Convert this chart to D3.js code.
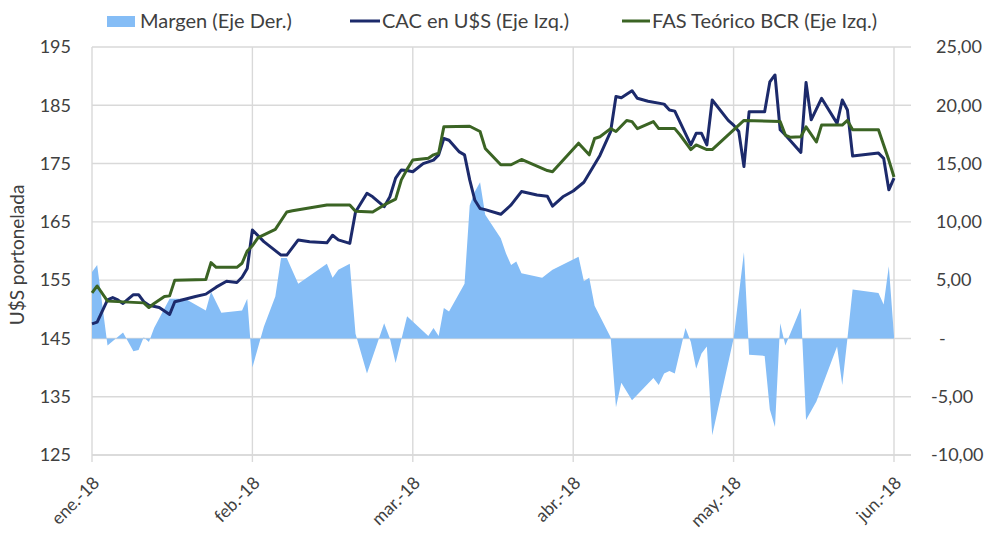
<!DOCTYPE html>
<html>
<head>
<meta charset="utf-8">
<script src="https://cdn.jsdelivr.net/npm/d3@7"></script>
<style>
  body { margin: 0; background: #fff; }
  svg text { font-family: Lato, 'Liberation Sans', sans-serif; fill: #404040; }
</style>
</head>
<body>
<div id="container"></div>
<script>
// Tick labels and month anchors
const monthStarts = ['01-01', '02-01', '03-01', '04-01', '05-01', '06-01'];
const monthLabels = ['ene.-18', 'feb.-18', 'mar.-18', 'abr.-18', 'may.-18', 'jun.-18'];
const leftTicks = [125, 135, 145, 155, 165, 175, 185, 195];
const rightTicks = [-10, -5, 0, 5, 10, 15, 20, 25];

// Margen (Eje Der.)
const margenData = [
  ['01-01', 5.7], ['01-02', 6.3], ['01-04', -0.6], ['01-07', 0.5], ['01-09', -1.1],
  ['01-10', -1.0], ['01-11', 0.1], ['01-12', -0.3], ['01-13', 0.9], ['01-16', 3.4],
  ['01-19', 3.4], ['01-23', 2.4], ['01-24', 4.0], ['01-26', 2.2], ['01-30', 2.4],
  ['01-31', 3.4], ['02-01', -2.5], ['02-03', 1.0], ['02-05', 3.6], ['02-06', 6.9],
  ['02-07', 6.9], ['02-09', 4.7], ['02-14', 6.4], ['02-15', 5.2], ['02-16', 5.9],
  ['02-18', 6.4], ['02-19', 0.4], ['02-21', -3.0], ['02-24', 1.3], ['02-25', 0.0],
  ['02-26', -2.1], ['02-28', 1.9], ['03-04', 0.2], ['03-05', 0.9], ['03-06', 0.2],
  ['03-07', 2.6], ['03-08', 2.3], ['03-11', 4.7], ['03-12', 11.4], ['03-13', 12.6],
  ['03-14', 13.4], ['03-15', 10.6], ['03-18', 8.6], ['03-19', 7.3], ['03-20', 6.3],
  ['03-21', 6.6], ['03-22', 5.6], ['03-26', 5.2], ['03-28', 5.9], ['04-02', 7.0],
  ['04-03', 4.9], ['04-04', 5.2], ['04-05', 2.8], ['04-08', 0.1], ['04-09', -5.9],
  ['04-10', -3.8], ['04-12', -5.3], ['04-16', -3.4], ['04-17', -4.0], ['04-18', -3.0],
  ['04-19', -2.8], ['04-20', -3.0], ['04-22', 0.9], ['04-23', -0.3], ['04-24', -2.6],
  ['04-25', -1.3], ['04-26', -0.7], ['04-27', -8.3], ['05-01', 0.0], ['05-03', 7.4],
  ['05-04', -1.4], ['05-07', -1.5], ['05-08', -6.1], ['05-09', -7.6], ['05-10', 1.3],
  ['05-11', -0.6], ['05-14', 2.6], ['05-15', -7.0], ['05-17', -5.4], ['05-21', -0.7],
  ['05-22', -4.0], ['05-23', 0.0], ['05-24', 4.2], ['05-29', 3.9], ['05-30', 2.9],
  ['05-31', 6.2], ['06-01', 0.2]
];

// CAC en U$S (Eje Izq.)
const cacData = [
  ['01-01', 147.5], ['01-02', 147.8], ['01-04', 151.6], ['01-05', 152.0], ['01-06', 151.6],
  ['01-07', 151.0], ['01-09', 152.5], ['01-10', 152.5], ['01-11', 151.3], ['01-12', 150.7],
  ['01-14', 150.3], ['01-16', 149.1], ['01-17', 151.3], ['01-18', 151.5], ['01-21', 152.2],
  ['01-23', 152.6], ['01-25', 153.8], ['01-27', 154.8], ['01-29', 154.6], ['01-30', 155.5],
  ['01-31', 157.0], ['02-01', 163.6], ['02-03', 161.6], ['02-06', 159.3], ['02-07', 159.3],
  ['02-09', 161.9], ['02-11', 161.6], ['02-14', 161.4], ['02-15', 162.7], ['02-16', 161.9],
  ['02-18', 161.3], ['02-19', 166.7], ['02-21', 169.9], ['02-22', 169.3], ['02-24', 167.6],
  ['02-25', 169.3], ['02-26', 172.5], ['02-27', 173.9], ['02-28', 173.8], ['03-01', 173.6],
  ['03-03', 175.0], ['03-05', 175.6], ['03-06', 176.5], ['03-07', 179.3], ['03-08', 179.0],
  ['03-10', 177.0], ['03-11', 176.5], ['03-12', 172.2], ['03-13', 168.7], ['03-14', 167.3],
  ['03-15', 167.1], ['03-18', 166.3], ['03-20', 167.9], ['03-22', 170.2], ['03-25', 169.6],
  ['03-27', 169.4], ['03-28', 167.7], ['03-30', 169.3], ['04-01', 170.3], ['04-03', 171.8],
  ['04-06', 176.4], ['04-08', 180.5], ['04-09', 186.5], ['04-10', 186.3], ['04-12', 187.5],
  ['04-13', 186.2], ['04-15', 185.7], ['04-18', 185.2], ['04-19', 184.2], ['04-20', 184.0],
  ['04-23', 178.2], ['04-24', 180.2], ['04-25', 180.2], ['04-26', 178.2], ['04-27', 185.9],
  ['04-30', 182.4], ['05-01', 181.6], ['05-02', 180.5], ['05-03', 174.5], ['05-04', 183.9],
  ['05-07', 183.9], ['05-08', 189.0], ['05-09', 190.2], ['05-10', 180.8], ['05-11', 179.9],
  ['05-14', 176.9], ['05-15', 188.9], ['05-16', 182.5], ['05-18', 186.2], ['05-21', 181.9],
  ['05-22', 185.9], ['05-23', 184.2], ['05-24', 176.3], ['05-29', 176.8], ['05-30', 175.9],
  ['05-31', 170.5], ['06-01', 172.5]
];

// FAS Teórico BCR (Eje Izq.)
const fasData = [
  ['01-01', 152.8], ['01-02', 154.0], ['01-04', 151.4], ['01-11', 151.1], ['01-12', 150.3],
  ['01-13', 151.0], ['01-15', 152.2], ['01-16', 152.3], ['01-17', 155.0], ['01-23', 155.1],
  ['01-24', 158.0], ['01-25', 157.2], ['01-29', 157.2], ['01-30', 157.9], ['01-31', 160.0],
  ['02-01', 160.9], ['02-02', 162.3], ['02-05', 163.7], ['02-07', 166.7], ['02-08', 166.9],
  ['02-14', 167.9], ['02-18', 167.9], ['02-19', 166.8], ['02-22', 166.7], ['02-24', 167.9],
  ['02-26', 168.9], ['02-27', 172.2], ['02-28', 174.0], ['03-01', 175.6], ['03-04', 175.9],
  ['03-05', 176.5], ['03-06', 176.8], ['03-07', 181.3], ['03-12', 181.4], ['03-14', 180.5],
  ['03-15', 177.6], ['03-18', 174.8], ['03-20', 174.8], ['03-22', 175.7], ['03-27', 173.8],
  ['03-28', 173.6], ['04-02', 178.5], ['04-04', 176.5], ['04-05', 179.3], ['04-06', 179.6],
  ['04-08', 181.0], ['04-09', 180.5], ['04-11', 182.4], ['04-12', 182.2], ['04-13', 181.0],
  ['04-16', 182.2], ['04-17', 181.0], ['04-20', 181.0], ['04-21', 179.9], ['04-23', 177.4],
  ['04-24', 178.2], ['04-26', 177.4], ['04-27', 177.4], ['05-03', 182.4], ['05-10', 182.2],
  ['05-11', 179.9], ['05-12', 179.5], ['05-14', 179.6], ['05-15', 181.3], ['05-17', 178.7],
  ['05-18', 181.6], ['05-22', 181.6], ['05-23', 182.4], ['05-24', 180.8], ['05-29', 180.8],
  ['05-30', 178.2], ['05-31', 175.6], ['06-01', 172.7]
];

const svgWidth = 989;
const svgHeight = 533;
const plotLeft = 92;
const plotRight = 911;
const plotTop = 47;
const plotBottom = 455;
const monthStep = 160.4;

const parseDay = s => d3.timeParse('%Y-%m-%d')('2018-' + s);
const locale = d3.formatLocale({
  decimal: ',', thousands: '.', grouping: [3], currency: ['$', ''], minus: '-'
});
const fmtRight = locale.format('.2f');

const svg = d3
  .select('#container')
  .append('svg')
  .attr('width', svgWidth)
  .attr('height', svgHeight);

// Scales: months are evenly spaced on the axis
const xScale = d3
  .scaleTime()
  .domain(monthStarts.map(parseDay))
  .range(monthStarts.map((d, i) => plotLeft + i * monthStep));

const yLeft = d3.scaleLinear().domain([125, 195]).range([plotBottom, plotTop]);
const yRight = d3.scaleLinear().domain([-10, 25]).range([plotBottom, plotTop]);

// Gridlines
svg
  .append('g')
  .selectAll('line')
  .data(leftTicks)
  .enter()
  .append('line')
  .attr('x1', plotLeft)
  .attr('x2', plotRight)
  .attr('y1', d => yLeft(d))
  .attr('y2', d => yLeft(d))
  .attr('stroke', '#d9d9d9')
  .attr('stroke-width', 1.4);

svg
  .append('g')
  .selectAll('line')
  .data(monthStarts)
  .enter()
  .append('line')
  .attr('x1', d => xScale(parseDay(d)))
  .attr('x2', d => xScale(parseDay(d)))
  .attr('y1', plotTop)
  .attr('y2', plotBottom + 7)
  .attr('stroke', '#d9d9d9')
  .attr('stroke-width', 1.4);

// Margen area
const margenArea = d3
  .area()
  .x(d => xScale(parseDay(d[0])))
  .y0(yRight(0))
  .y1(d => yRight(d[1]));

svg
  .append('path')
  .datum(margenData)
  .attr('d', margenArea)
  .attr('fill', '#85bdf6');

// Lines
const leftLine = d3
  .line()
  .x(d => xScale(parseDay(d[0])))
  .y(d => yLeft(d[1]));

svg
  .append('path')
  .datum(cacData)
  .attr('d', leftLine)
  .attr('fill', 'none')
  .attr('stroke', '#1c2a6b')
  .attr('stroke-width', 3)
  .attr('stroke-linejoin', 'round');

svg
  .append('path')
  .datum(fasData)
  .attr('d', leftLine)
  .attr('fill', 'none')
  .attr('stroke', '#3b6424')
  .attr('stroke-width', 3)
  .attr('stroke-linejoin', 'round');

// Y-AXIS left
const yAxisLeft = d3.axisLeft(yLeft).tickValues(leftTicks).tickSize(0).tickPadding(0);
svg
  .append('g')
  .attr('id', 'y-axis-left')
  .attr('transform', 'translate(71, 0)')
  .call(yAxisLeft)
  .call(g => g.select('.domain').remove())
  .selectAll('text')
  .attr('font-size', 18)
  .attr('font-family', null)
  .attr('fill', '#404040');

// Y-AXIS right
const yAxisRight = d3
  .axisRight(yRight)
  .tickValues(rightTicks)
  .tickSize(0)
  .tickPadding(0)
  .tickFormat(d => (d === 0 ? '-' : fmtRight(d)));
svg
  .append('g')
  .attr('id', 'y-axis-right')
  .attr('transform', 'translate(931, 0)')
  .call(yAxisRight)
  .call(g => g.select('.domain').remove())
  .selectAll('text')
  .attr('x', d => (d < 0 ? 0 : d === 0 ? 8 : 5))
  .attr('font-size', 18)
  .attr('font-family', null)
  .attr('fill', '#404040');

// X-AXIS
const xAxis = d3
  .axisBottom(xScale)
  .tickValues(monthStarts.map(parseDay))
  .tickSize(0)
  .tickFormat((d, i) => monthLabels[i]);
svg
  .append('g')
  .attr('id', 'x-axis')
  .attr('transform', `translate(0, ${plotBottom})`)
  .call(xAxis)
  .call(g => g.select('.domain').attr('d', `M${plotLeft},0H${plotRight}`).attr('stroke', '#d9d9d9').attr('stroke-width', 1.4))
  .selectAll('text')
  .attr('font-size', 17.5)
  .attr('font-family', null)
  .attr('fill', '#404040')
  .attr('text-anchor', 'end')
  .attr('dy', null)
  .attr('y', 0)
  .attr('transform', 'translate(8, 29) rotate(-45)');

// Y-axis title
svg
  .append('text')
  .attr('transform', 'translate(24, 255) rotate(-90)')
  .attr('text-anchor', 'middle')
  .attr('font-size', 19)
  .text('U$S portonelada');

// Legend
const legend = svg.append('g').attr('font-size', 20);
legend.append('rect').attr('x', 107).attr('y', 16).attr('width', 28).attr('height', 11).attr('fill', '#85bdf6');
legend.append('text').attr('x', 140).attr('y', 28).text('Margen (Eje Der.)');
legend.append('line').attr('x1', 350).attr('x2', 380).attr('y1', 21).attr('y2', 21).attr('stroke', '#1c2a6b').attr('stroke-width', 3);
legend.append('text').attr('x', 382).attr('y', 28).text('CAC en U$S (Eje Izq.)');
legend.append('line').attr('x1', 622).attr('x2', 650).attr('y1', 21).attr('y2', 21).attr('stroke', '#3b6424').attr('stroke-width', 3);
legend.append('text').attr('x', 652).attr('y', 28).text('FAS Teórico BCR (Eje Izq.)');
</script>
</body>
</html>
